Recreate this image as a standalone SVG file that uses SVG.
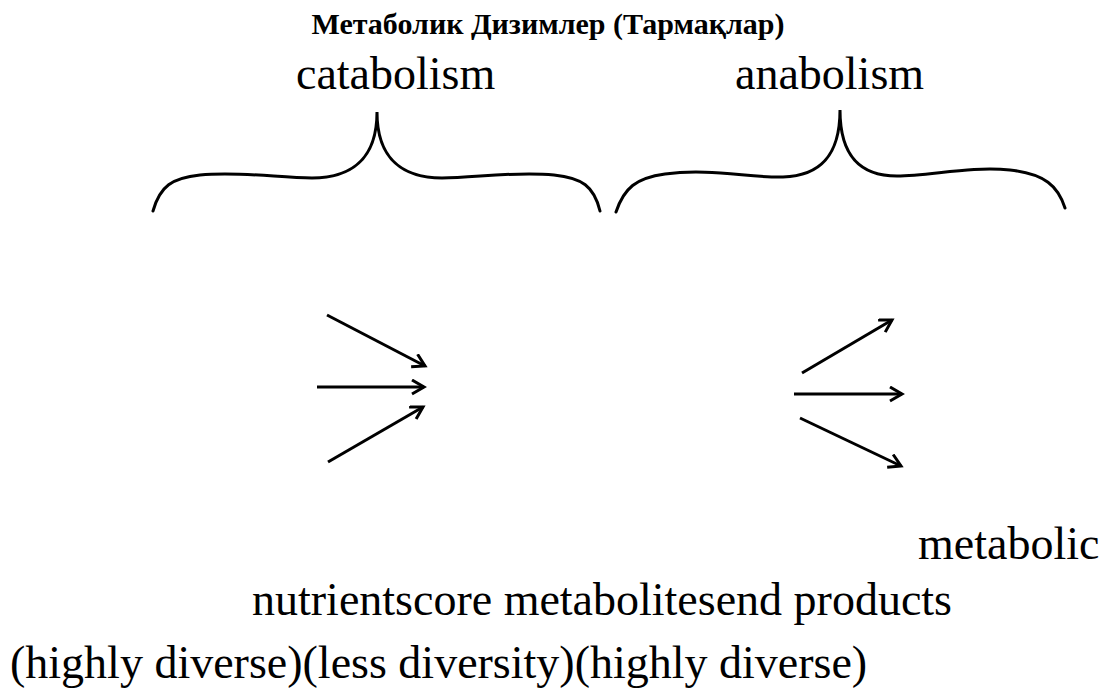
<svg xmlns="http://www.w3.org/2000/svg" width="1101" height="689" viewBox="0 0 1101 689">
<style>
text { font-family: "Liberation Serif", "DejaVu Serif", serif; fill: #000; }
.t { font-size: 30px; font-weight: bold; }
.l { font-size: 46px; }
.brace { fill: none; stroke: #000; stroke-width: 3; stroke-linecap: round; }
.arr { fill: none; stroke: #000; stroke-width: 3; marker-end: url(#ah); }
</style>
<defs>
<marker id="ah" markerUnits="userSpaceOnUse" markerWidth="18" markerHeight="18" refX="14" refY="8" orient="auto">
<path d="M2,1 L14,8 L2,15" fill="none" stroke="#000" stroke-width="3"/>
</marker>
</defs>
<rect width="1101" height="689" fill="#fff"/>
<g id="title"><text class="t" x="548" y="34" text-anchor="middle">Метаболик Дизимлер (Тармақлар)</text></g>
<g id="catabolism">
<text class="l" x="296" y="89">catabolism</text>
<path class="brace" d="M153,211 C160,186 172,178 200,175 C240,171 280,178 312,178 C350,178 377,160 377,112 C377,160 404,178 442,178 C474,178 514,171 554,175 C582,178 594,186 600,211"/>
</g>
<g id="anabolism">
<text class="l" x="735" y="89">anabolism</text>
<path class="brace" d="M616,212 C624,188 636,178 665,174 C710,168 750,178 783,177 C818,176 840,158 840,110 C840,158 862,176 897,176 C930,176 970,166 1010,170 C1045,174 1058,186 1065,208"/>
</g>
<g id="connectors">
<line class="arr" x1="327" y1="315" x2="425" y2="366"/>
<line class="arr" x1="317" y1="387" x2="424" y2="387"/>
<line class="arr" x1="328" y1="462" x2="423" y2="407"/>
<line class="arr" x1="802" y1="373" x2="892" y2="320"/>
<line class="arr" x1="794" y1="394" x2="902" y2="394"/>
<line class="arr" x1="800" y1="418" x2="901" y2="466"/>
</g>
<g id="labels">
<text class="l" x="918" y="559">metabolic</text>
<text class="l" x="252" y="615">nutrientscore metabolitesend products</text>
<text class="l" x="10" y="678">(highly diverse)(less diversity)(highly diverse)</text>
</g>
</svg>
